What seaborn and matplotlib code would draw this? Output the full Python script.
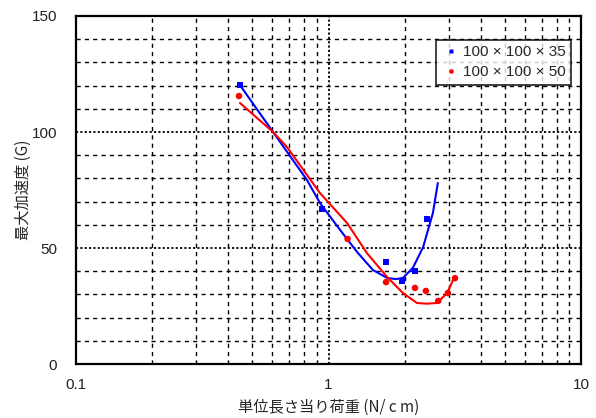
import matplotlib
matplotlib.use("Agg")
import matplotlib.pyplot as plt
import seaborn as sns
import pandas as pd
from matplotlib.ticker import MultipleLocator, LogLocator, NullFormatter, FixedLocator, FixedFormatter

# ---- data ----
series_names = ["100 \u00d7 100 \u00d7 35", "100 \u00d7 100 \u00d7 50"]

blue_x = [0.446, 0.942, 1.69, 1.955, 2.20, 2.45]
blue_y = [120.3, 66.8, 44.0, 35.8, 40.1, 62.5]

red_x = [0.442, 1.19, 1.69, 2.20, 2.43, 2.72, 2.97, 3.17]
red_y = [115.5, 53.9, 35.3, 32.8, 31.5, 27.2, 30.6, 37.0]

blue_fit_x = [0.446, 0.603, 0.822, 0.925, 1.111, 1.297, 1.50, 1.706, 1.85, 1.972, 2.16, 2.37, 2.59, 2.71]
blue_fit_y = [120.2, 100.0, 79.3, 69.4, 57.8, 48.3, 40.5, 37.1, 36.6, 37.1, 41.5, 50.4, 65.0, 78.0]

red_fit_x = [0.446, 0.603, 0.685, 0.925, 1.184, 1.42, 1.706, 1.972, 2.24, 2.45, 2.69, 2.95, 3.14]
red_fit_y = [112.5, 100.0, 93.5, 73.7, 60.8, 47.8, 37.5, 30.6, 26.3, 26.0, 26.3, 30.6, 37.1]

x_ticks = [0.1, 1, 10]
x_tick_labels = ["0.1", "1", "10"]
y_ticks = [0, 50, 100, 150]

colors = ["#0000ff", "#ff0000"]

sns.set_theme(style="white")
plt.rcParams['font.family'] = ['Noto Sans CJK JP', 'DejaVu Sans']

pts = pd.DataFrame({
    "x": blue_x + red_x,
    "y": blue_y + red_y,
    "s": [series_names[0]] * len(blue_x) + [series_names[1]] * len(red_x),
})

fig = plt.figure(figsize=(5.96, 4.18), dpi=100)
ax = fig.add_axes([76/596, 54/418, 505/596, 348/418])
ax.set_xscale("log")
ax.set_xlim(0.1, 10)
ax.set_ylim(0, 150)

# grid
ax.set_axisbelow(True)
ax.xaxis.set_major_locator(FixedLocator(x_ticks))
ax.xaxis.set_major_formatter(FixedFormatter(x_tick_labels))
ax.xaxis.set_minor_locator(LogLocator(base=10, subs=range(2, 10)))
ax.xaxis.set_minor_formatter(NullFormatter())
ax.yaxis.set_major_locator(FixedLocator(y_ticks))
ax.yaxis.set_minor_locator(MultipleLocator(10))
ax.grid(which="major", color="black", linestyle=(0, (1.2, 1.2)), linewidth=1.3)
ax.grid(which="minor", color="black", linestyle=(0, (3, 3)), linewidth=1.0)

sns.lineplot(x=blue_fit_x, y=blue_fit_y, ax=ax, color=colors[0], lw=1.5, sort=False, estimator=None, legend=False)
sns.lineplot(x=red_fit_x, y=red_fit_y, ax=ax, color=colors[1], lw=1.5, sort=False, estimator=None, legend=False)

sns.scatterplot(data=pts, x="x", y="y", hue="s", style="s",
                palette=colors, markers=["s", "o"], s=22, edgecolor="none",
                ax=ax, zorder=5)

for sp in ax.spines.values():
    sp.set_color("black")
    sp.set_linewidth(1.6)

ax.tick_params(which="both", length=0)
ax.tick_params(axis="x", pad=10, labelsize=11, labelcolor="#222222")
ax.tick_params(axis="y", pad=13.5, labelsize=11, labelcolor="#222222")
for lab in ax.get_xticklabels() + ax.get_yticklabels():
    lab.set_family(['Liberation Sans', 'DejaVu Sans'])

ax.set_xlabel("単位長さ当り荷重 (N/ c m)", fontsize=11)
ax.set_ylabel("最大加速度 (G)", fontsize=11)
ax.xaxis.set_label_coords(0.5, -0.10)
ax.yaxis.set_label_coords(-0.088, 0.5)

leg = ax.legend(loc="upper right", bbox_to_anchor=(0.980, 0.931), borderaxespad=0,
                frameon=True, fancybox=False, edgecolor="black",
                prop={'family': ['Liberation Sans', 'DejaVu Sans'], 'size': 11},
                handletextpad=0.2, borderpad=0.35, labelspacing=0.4,
                handlelength=1.2, markerscale=0.7)
leg.get_frame().set_linewidth(1.3)
leg.set_title(None)

fig.savefig("out.png", dpi=100, facecolor="white")
